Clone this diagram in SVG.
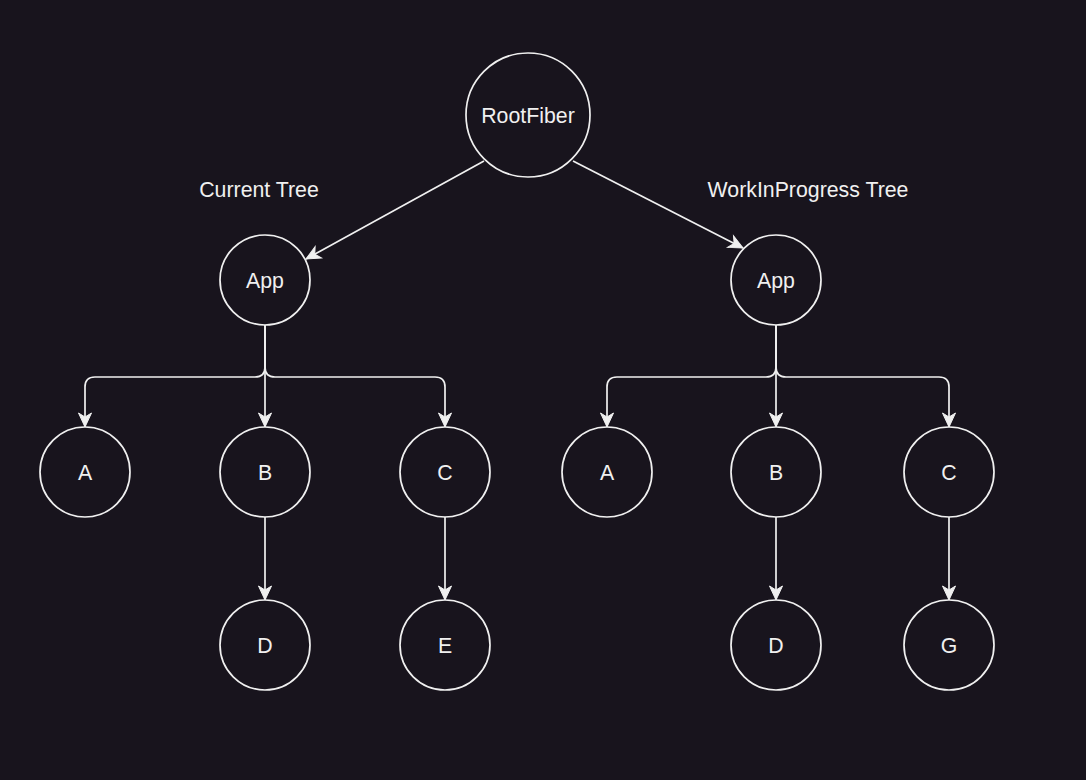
<svg xmlns="http://www.w3.org/2000/svg" width="1086" height="780" viewBox="0 0 1086 780">
<defs>
<marker id="arr" markerUnits="userSpaceOnUse" markerWidth="20" markerHeight="20" refX="14" refY="0" orient="auto" overflow="visible">
<path d="M0,-6.5 L14,0 L0,6.5 L4,0 Z" fill="#f0f0f0" stroke="#f0f0f0" stroke-width="1" stroke-linejoin="miter"/>
</marker>
<style>
.n{fill:#18141d;stroke:#f0f0f0;stroke-width:1.7}
.t{font-family:"Liberation Sans",Arial,sans-serif;font-size:21.3px;fill:#f0f0f0;text-anchor:middle;dominant-baseline:central}
.c{fill:none;stroke:#f0f0f0;stroke-width:1.7;marker-end:url(#arr)}
</style>
</defs>
<rect width="1086" height="780" fill="#18141d"/>
<g id="connectors">
<path class="c" d="M484,161 L306,259"/>
<path class="c" d="M573,161 L743,248"/>
<path class="c" d="M265,325 L265,367 Q265,377 255,377 L95,377 Q85,377 85,387 L85,427"/>
<path class="c" d="M265,325 L265,427"/>
<path class="c" d="M265,325 L265,367 Q265,377 275,377 L435,377 Q445,377 445,387 L445,427"/>
<path class="c" d="M776,325 L776,367 Q776,377 766,377 L617,377 Q607,377 607,387 L607,427"/>
<path class="c" d="M776,325 L776,427"/>
<path class="c" d="M776,325 L776,367 Q776,377 786,377 L939,377 Q949,377 949,387 L949,427"/>
<path class="c" d="M265,517 L265,600"/>
<path class="c" d="M445,517 L445,600"/>
<path class="c" d="M776,517 L776,600"/>
<path class="c" d="M949,517 L949,600"/>
</g>
<g id="label-current"><text class="t" x="259" y="190">Current Tree</text></g>
<g id="label-wip"><text class="t" x="808" y="190">WorkInProgress Tree</text></g>
<g id="rootfiber"><circle class="n" cx="528" cy="115" r="62"/><text class="t" x="528" y="116">RootFiber</text></g>
<g id="app-current"><circle class="n" cx="265" cy="280" r="45"/><text class="t" x="265" y="281">App</text></g>
<g id="app-wip"><circle class="n" cx="776" cy="280" r="45"/><text class="t" x="776" y="281">App</text></g>
<g id="a-current"><circle class="n" cx="85" cy="472" r="45"/><text class="t" x="85" y="473">A</text></g>
<g id="b-current"><circle class="n" cx="265" cy="472" r="45"/><text class="t" x="265" y="473">B</text></g>
<g id="c-current"><circle class="n" cx="445" cy="472" r="45"/><text class="t" x="445" y="473">C</text></g>
<g id="d-current"><circle class="n" cx="265" cy="645" r="45"/><text class="t" x="265" y="646">D</text></g>
<g id="e-current"><circle class="n" cx="445" cy="645" r="45"/><text class="t" x="445" y="646">E</text></g>
<g id="a-wip"><circle class="n" cx="607" cy="472" r="45"/><text class="t" x="607" y="473">A</text></g>
<g id="b-wip"><circle class="n" cx="776" cy="472" r="45"/><text class="t" x="776" y="473">B</text></g>
<g id="c-wip"><circle class="n" cx="949" cy="472" r="45"/><text class="t" x="949" y="473">C</text></g>
<g id="d-wip"><circle class="n" cx="776" cy="645" r="45"/><text class="t" x="776" y="646">D</text></g>
<g id="g-wip"><circle class="n" cx="949" cy="645" r="45"/><text class="t" x="949" y="646">G</text></g>
</svg>
